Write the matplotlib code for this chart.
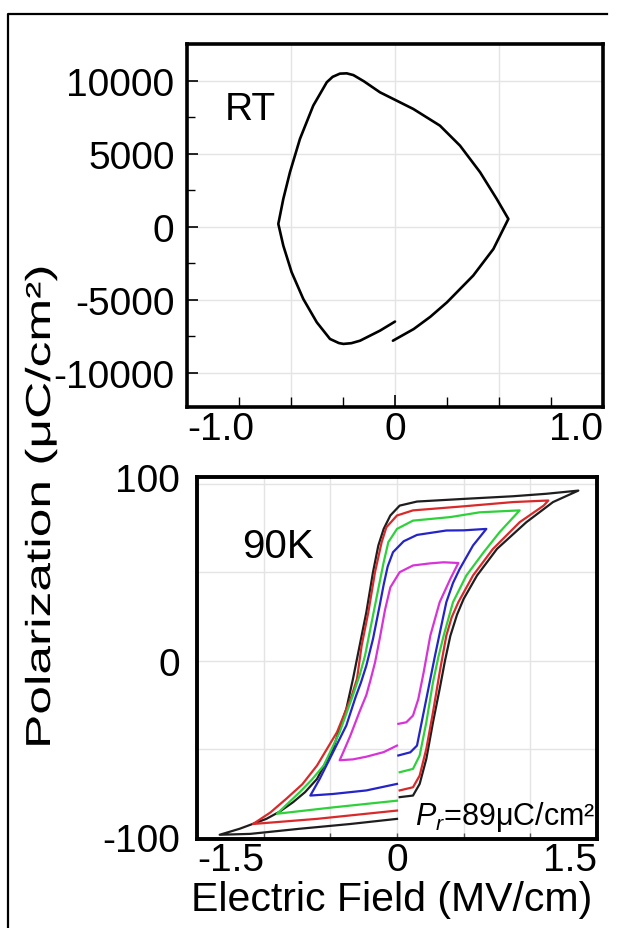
import matplotlib
matplotlib.use("Agg")
import matplotlib.pyplot as plt
from matplotlib.lines import Line2D
from matplotlib.patheffects import AbstractPathEffect
from matplotlib.transforms import Affine2D, ScaledTranslation
import numpy as np

plt.rcParams['font.family'] = ['Liberation Sans', 'DejaVu Sans']
plt.rcParams['mathtext.fontset'] = 'custom'
plt.rcParams['mathtext.rm'] = 'Liberation Sans'
plt.rcParams['mathtext.it'] = 'Liberation Sans:italic'

# ---------------- data ----------------
rt_E = [-0.01, 0.09, 0.17, 0.25, 0.376, 0.473, 0.545, 0.489, 0.409, 0.3125, 0.216, 0.088,
        -0.072, -0.15, -0.20, -0.232, -0.265, -0.30, -0.328, -0.393, -0.457, -0.505, -0.537,
        -0.561, -0.537, -0.497, -0.441, -0.376, -0.3125, -0.27, -0.248, -0.21, -0.168,
        -0.072, 0.0]
rt_P = [-7790, -6990, -6150, -5160, -3330, -1510, 550, 1920, 3750, 5570, 6940, 8080,
        9220, 9980, 10400, 10520, 10500, 10280, 9910, 8310, 6030, 3750, 1920,
        210, -1280, -3100, -4930, -6530, -7670, -7950, -8010, -7960, -7790,
        -7100, -6480]

magenta_E = [0.01, 0.07, 0.12, 0.16, 0.20, 0.25, 0.32, 0.40, 0.46, 0.35, 0.25, 0.12, 0.02,
             -0.05, -0.09, -0.13, -0.165, -0.20, -0.23, -0.28, -0.35, -0.40, -0.43,
             -0.33, -0.23, -0.10, 0.0]
magenta_P = [-35.8, -34.9, -31.1, -21.7, -6.6, 14.2, 33.1, 46.3, 55.3, 55.7, 55.1, 53.9, 50.1,
             41.5, 28.7, 12.3, -1.1, -11.3, -19.5, -28.7, -42.5, -51.3, -56.4,
             -55.9, -54.4, -51.8, -48.1]

blue_E = [0.01, 0.10, 0.15, 0.185, 0.235, 0.285, 0.32, 0.37, 0.42, 0.47, 0.57, 0.67, 0.50,
          0.37, 0.15, 0.05, -0.03, -0.07, -0.10, -0.13, -0.18, -0.23, -0.27, -0.31, -0.38,
          -0.48, -0.58, -0.65, -0.48, -0.23, 0.0]
blue_P = [-53.7, -51.9, -48.1, -34.9, -16.0, 2.8, 15.4, 33.1, 44.0, 51.9, 65.2, 74.6, 73.8,
          73.7, 71.2, 67.6, 61.4, 53.3, 43.0, 31.2, 12.3, -2.8, -12.3, -20.5, -36.7,
          -51.9, -67.0, -76.4, -75.5, -73.5, -69.8]

green_E = [0.02, 0.12, 0.17, 0.22, 0.27, 0.31, 0.35, 0.42, 0.52, 0.65, 0.77, 0.92, 0.62,
           0.40, 0.12, 0.0, -0.065, -0.10, -0.14, -0.19, -0.24, -0.28, -0.33, -0.43,
           -0.55, -0.64, -0.73, -0.90, -0.48, 0.0]
green_P = [-63.2, -61.3, -53.7, -34.9, -12.2, 2.0, 14.2, 33.1, 48.2, 61.4, 72.8, 85.1, 84.0,
           81.3, 79.3, 74.6, 67.1, 55.7, 40.7, 21.8, 2.8, -8.2, -19.5, -40.5,
           -59.4, -67.5, -74.5, -86.7, -83.1, -79.3]

red_E = [0.02, 0.12, 0.17, 0.22, 0.27, 0.32, 0.37, 0.41, 0.46, 0.57, 0.72, 0.92, 1.10,
         1.135, 0.87, 0.50, 0.12, 0.0, -0.08, -0.115, -0.165, -0.215, -0.265, -0.30,
         -0.34, -0.45, -0.60, -0.71, -0.83, -0.95, -1.08, -0.60, 0.0]
red_P = [-73.5, -71.7, -65.1, -49.9, -29.2, -6.6, 14.2, 24.5, 33.1, 48.2, 63.3, 78.4, 87.8,
         90.7, 89.8, 87.4, 85.1, 82.2, 75.5, 67.1, 50.1, 27.4, 8.6, -10.3,
         -20.0, -40.5, -59.4, -70.0, -78.2, -86.0, -92.5, -89.6, -84.9]

black_E = [0.02, 0.12, 0.17, 0.22, 0.27, 0.32, 0.36, 0.40, 0.45, 0.50, 0.60, 0.75, 0.97,
           1.17, 1.36, 1.12, 0.87, 0.50, 0.15, 0.02, -0.05, -0.10, -0.14, -0.18, -0.23,
           -0.28, -0.33, -0.38, -0.48, -0.60, -0.69, -0.78, -0.88, -0.98, -1.18, -1.33,
           -1.10, -0.73, -0.35, 0.0]
black_P = [-77.3, -76.4, -69.8, -55.6, -34.9, -16.0, 0.0, 14.0, 26.0, 35.0, 48.2, 63.3, 78.4,
           89.8, 96.3, 94.5, 93.1, 91.6, 90.1, 87.8, 82.2, 74.6, 65.2, 50.1, 27.4,
           8.6, -10.3, -27.3, -49.9, -67.0, -74.5, -80.2, -85.5, -89.6, -95.2, -98.6,
           -98.1, -95.2, -92.5, -89.6]

loops = [
    (black_E, black_P, '#1e1e1e'),
    (red_E, red_P, '#d82a2a'),
    (green_E, green_P, '#2fd13a'),
    (blue_E, blue_P, '#2424c8'),
    (magenta_E, magenta_P, '#d733d7'),
]

top_yticks = [-10000, -5000, 0, 5000, 10000]
top_xticks = [-1.0, 0.0, 1.0]
top_xticklabels = ['-1.0', '0', '1.0']
bot_yticks = [-100, 0, 100]
bot_xticks = [-1.5, 0.0, 1.5]
bot_xticklabels = ['-1.5', '0', '1.5']


class Stretch(AbstractPathEffect):
    """Stretch text glyphs along the writing direction."""
    def __init__(self, sx):
        super().__init__()
        self.sx = sx

    def draw_path(self, renderer, gc, tpath, affine, rgbFace=None):
        renderer.draw_path(gc, tpath, Affine2D().scale(self.sx, 1.0) + affine, rgbFace)


# ---------------- figure ----------------
W, H = 632, 929
fig = plt.figure(figsize=(W / 100, H / 100), dpi=100)

# outer frame (left and top edges visible)
top_y = 1 - 14.5 / H
left_x = 7.5 / W
fig.add_artist(Line2D([left_x, left_x, 0.96], [0.0, top_y, top_y],
                      transform=fig.transFigure, color='black', linewidth=1.6,
                      clip_on=False))

ax1 = fig.add_axes([187 / W, 1 - 408 / H, 416 / W, 363 / H])
ax2 = fig.add_axes([197 / W, 1 - 840 / H, 400 / W, 362 / H])

grid_col = '#e4e4e4'

# ---- top panel (RT) ----
ax1.plot(rt_E, rt_P, color='black', lw=1.9, solid_capstyle='round',
         solid_joinstyle='round', zorder=3)
ax1.set_xlim(-1.0, 1.0)
ax1.set_ylim(-12330, 12530)
ax1.set_yticks(top_yticks)
ax1.set_yticklabels([str(v) for v in top_yticks])
ax1.set_yticks(np.arange(-10000, 10001, 2500), minor=True)
ax1.set_xticks(top_xticks)
ax1.set_xticklabels(top_xticklabels)
ax1.set_xticks(np.arange(-0.75, 0.76, 0.25), minor=True)
for y in top_yticks:
    ax1.axhline(y, color=grid_col, lw=1.0, zorder=0)
for x in [-0.5, 0.0, 0.5]:
    ax1.axvline(x, color=grid_col, lw=1.0, zorder=0)
ax1.tick_params(axis='both', which='both', direction='in', color='black')
ax1.tick_params(axis='y', which='major', length=8, width=1.2, labelsize=28, pad=9)
ax1.tick_params(axis='y', which='minor', length=6, width=1.0)
ax1.tick_params(axis='x', which='major', length=9, width=1.2, labelsize=28, pad=3)
ax1.tick_params(axis='x', which='minor', length=7, width=1.0)
labs = ax1.get_xticklabels()
labs[0].set_horizontalalignment('left')
labs[-1].set_horizontalalignment('right')
for s in ax1.spines.values():
    s.set_linewidth(2.6)
ax1.text(-0.82, 8100, 'RT', fontsize=28, ha='left', va='center')

# ---- bottom panel (90K) ----
for E, P, c in loops:
    ax2.plot(E, P, color=c, lw=1.6, solid_joinstyle='round', zorder=3)
ax2.set_xlim(-1.5, 1.5)
ax2.set_ylim(-101, 104)
ax2.set_yticks(bot_yticks)
ax2.set_yticklabels([str(v) for v in bot_yticks])
ax2.set_xticks(bot_xticks)
ax2.set_xticklabels(bot_xticklabels)
ax2.set_xticks([-1.0, -0.5, 0.5, 1.0], minor=True)
for y in [-50, 0, 50, 100]:
    ax2.axhline(y, color=grid_col, lw=1.0, zorder=0)
for x in [-1.0, -0.5, 0.0, 0.5, 1.0]:
    ax2.axvline(x, color=grid_col, lw=1.0, zorder=0)
ax2.tick_params(axis='both', which='both', direction='in', color='#555555')
ax2.tick_params(axis='y', which='major', length=0, labelsize=28, pad=12)
ax2.tick_params(axis='x', which='major', length=4, width=1.0, labelsize=28, pad=2)
ax2.tick_params(axis='x', which='minor', length=4, width=1.0)
labs = ax2.get_xticklabels()
labs[0].set_horizontalalignment('left')
labs[-1].set_horizontalalignment('right')
ylabs = ax2.get_yticklabels()
ylabs[-1].set_transform(ylabs[-1].get_transform() +
                        ScaledTranslation(0, 7 / 100, fig.dpi_scale_trans))
for s in ax2.spines.values():
    s.set_linewidth(2.8)
ax2.text(-1.16, 65, '90K', fontsize=29, ha='left', va='center')
ax2.text(1.49, -88, '$P_r$=89μC/cm²', fontsize=22, ha='right', va='center')

fig.text(0.619, 0.031, 'Electric Field (MV/cm)', fontsize=29.5, ha='center', va='center')

ylab = fig.text(50 / W, 1 - 750 / H, 'Polarization (μC/cm²)', rotation=90,
                rotation_mode='anchor', fontsize=25, ha='left', va='baseline')
fig.canvas.draw()
ext = ylab.get_window_extent()
ylab.set_path_effects([Stretch(485.0 / ext.height)])

fig.savefig('out.png', dpi=100)
